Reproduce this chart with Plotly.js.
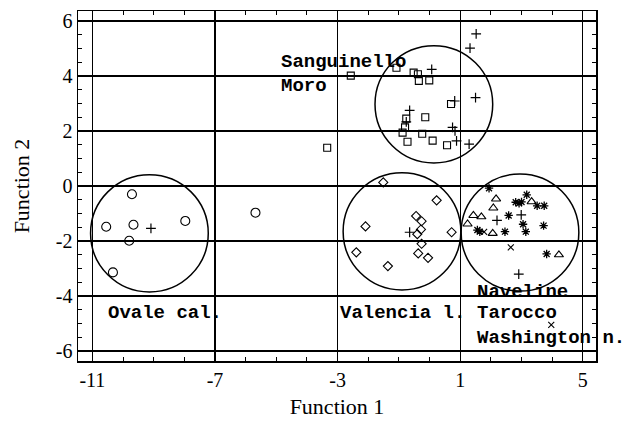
<!DOCTYPE html>
<html>
<head>
<meta charset="utf-8">
<script src="https://cdn.plot.ly/plotly-3.0.1.min.js"></script>
<style>html,body{margin:0;padding:0;background:#fff;}#chart{width:624px;height:436px;}</style>
</head>
<body>
<div id="chart"></div>
<script>
// Ovale cal. (open circles)
const ovaleX = [-9.71, -10.55, -9.66, -7.97, -9.80, -10.33, -5.68];
const ovaleY = [-0.30, -1.48, -1.41, -1.27, -1.99, -3.14, -0.97];
// Valencia l. (open diamonds)
const valenciaX = [-1.51, 0.23, -0.44, -0.26, -2.09, -0.28, -0.40, 0.72, -0.26, -2.39, -0.37, -0.05, -1.36];
const valenciaY = [0.13, -0.52, -1.09, -1.28, -1.47, -1.58, -1.75, -1.68, -2.10, -2.41, -2.45, -2.61, -2.91];
// Sanguinello (open squares)
const sanguinelloX = [-1.08, -2.57, -0.52, -0.38, -0.35, -0.01, -3.34, 0.70, -0.14, -0.76, -0.80, -0.88, -0.24, -0.72, 0.10, 0.57];
const sanguinelloY = [4.30, 4.01, 4.12, 4.06, 3.82, 3.84, 1.39, 2.98, 2.50, 2.45, 2.13, 1.94, 1.90, 1.61, 1.65, 1.48];
// Moro (plus)
const moroX = [1.52, 1.32, 0.07, 1.50, 0.82, -0.65, 0.75, 0.83, 0.88, 1.29, -0.76];
const moroY = [5.53, 5.01, 4.24, 3.21, 3.09, 2.75, 2.13, 2.00, 1.64, 1.52, 2.33];
// Naveline (open triangles)
const navelineX = [2.17, 2.08, 3.33, 1.43, 1.69, 1.24, 2.06, 4.22];
const navelineY = [-0.47, -0.80, -0.57, -1.07, -1.12, -1.38, -1.72, -2.50];
// Tarocco (asterisks)
const taroccoX = [1.94, 2.81, 2.92, 3.00, 3.17, 3.51, 3.74, 2.58, 3.05, 3.72, 1.56, 1.64, 2.46, 3.14, 3.82];
const taroccoY = [-0.08, -0.59, -0.63, -0.58, -0.32, -0.72, -0.72, -1.07, -1.39, -1.44, -1.60, -1.66, -1.66, -1.66, -2.47];
// Washington n. (x)
const washingtonX = [1.78, 2.65, 3.97];
const washingtonY = [-1.67, -2.23, -5.05];
// Group centroids (plus)
const centroidX = [-9.09, -0.65, 2.20, 2.99, 2.91];
const centroidY = [-1.54, -1.68, -1.25, -1.05, -3.20];
// Group circles: centres and radii (data units)
const circleX = [-9.14, -0.90, 0.14, 2.95];
const circleY = [-1.72, -1.65, 2.97, -1.69];
const circleRX = 1.92, circleRY = 2.13;
// Axis ticks
const xTicks = [-11, -7, -3, 1, 5];
const yTicks = [-6, -4, -2, 0, 2, 4, 6];
// Group labels
const labelText = ['Sanguinello', 'Moro', 'Ovale cal.', 'Valencia l.', 'Naveline', 'Tarocco', 'Washington n.'];

const mk = (x, y, symbol, size, lw) => ({
  type: 'scatter', mode: 'markers', x: x, y: y, showlegend: false, cliponaxis: false,
  marker: {symbol: symbol, size: size, color: 'black', line: {color: 'black', width: lw}}
});

const data = [
  mk(ovaleX, ovaleY, 'circle-open', 9, 1.1),
  mk(valenciaX, valenciaY, 'diamond-open', 7, 1.1),
  mk(sanguinelloX, sanguinelloY, 'square-open', 7, 1.1),
  mk(moroX, moroY, 'cross-thin-open', 7, 1.2),
  mk(navelineX, navelineY, 'triangle-up-open', 8, 1.1),
  mk(taroccoX, taroccoY, 'asterisk-open', 7, 1.3),
  mk(washingtonX, washingtonY, 'x-thin-open', 6, 1.1),
  mk(centroidX, centroidY, 'cross-thin-open', 7, 1.2)
];

const shapes = circleX.map((cx, i) => ({
  type: 'circle', xref: 'x', yref: 'y',
  x0: cx - circleRX, x1: cx + circleRX, y0: circleY[i] - circleRY, y1: circleY[i] + circleRY,
  line: {color: 'black', width: 1.5}
}));

const labelPos = [[-4.87, 4.51], [-4.87, 3.64], [-10.53, -4.61], [-2.94, -4.61], [1.53, -3.84], [1.53, -4.61], [1.53, -5.53]];
const annotations = labelText.map((t, i) => ({
  text: t, x: labelPos[i][0], y: labelPos[i][1], xref: 'x', yref: 'y',
  xanchor: 'left', yanchor: 'middle', showarrow: false, borderpad: 0,
  font: {family: 'Liberation Mono, Courier New, monospace', size: 19, color: 'black', weight: 'bold'}
}));

const axisCommon = {
  showline: true, linecolor: 'black', linewidth: 1.5, mirror: 'ticks',
  showgrid: true, gridcolor: 'black', gridwidth: 1.3, zeroline: false,
  ticks: 'inside', ticklen: 5, tickcolor: 'black', tickwidth: 1,
  tickfont: {family: 'Liberation Serif, Times New Roman, serif', size: 20, color: 'black'}
};

const layout = {
  width: 624, height: 436,
  margin: {l: 78, r: 28, t: 11, b: 75},
  paper_bgcolor: 'white', plot_bgcolor: 'white',
  xaxis: Object.assign({}, axisCommon, {
    range: [-11.47, 5.43], tickmode: 'array', tickvals: xTicks, ticktext: xTicks.map(String),
    minor: {dtick: 1, tick0: -11, ticks: 'inside', ticklen: 4, tickcolor: 'black', tickwidth: 1, showgrid: false},
    title: {text: 'Function 1', standoff: 9, font: {family: 'Liberation Serif, Times New Roman, serif', size: 22, color: 'black'}}
  }),
  yaxis: Object.assign({}, axisCommon, {
    range: [-6.36, 6.36], tickmode: 'array', tickvals: yTicks, ticktext: yTicks.map(String),
    minor: {dtick: 0.5, tick0: 0, ticks: 'inside', ticklen: 4, tickcolor: 'black', tickwidth: 1, showgrid: false},
    title: {text: 'Function 2', standoff: 20, font: {family: 'Liberation Serif, Times New Roman, serif', size: 22, color: 'black'}}
  }),
  shapes: shapes,
  annotations: annotations
};

Plotly.newPlot('chart', data, layout, {displayModeBar: false, staticPlot: true});
</script>
</body>
</html>
